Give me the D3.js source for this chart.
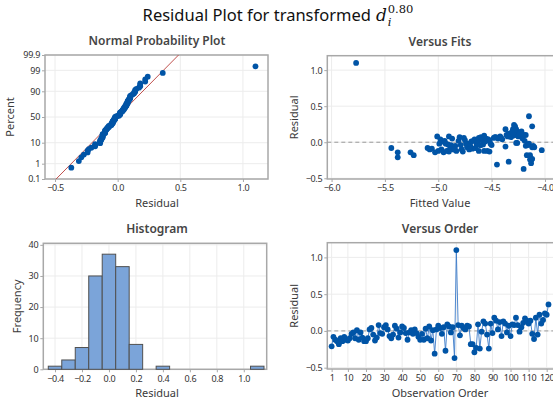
<!DOCTYPE html>
<html>
<head>
<meta charset="utf-8">
<script src="https://cdn.jsdelivr.net/npm/d3@7"></script>
<style>
  html,body{margin:0;padding:0;background:#fff;}
  svg{display:block;}
</style>
</head>
<body>
<svg id="chart" width="553" height="405"></svg>
<script>
// ---------------- DATA ----------------
// residuals in observation order (1..121)
const residuals = [
 -0.21,-0.08,-0.12,-0.14,-0.18,-0.10,-0.14,-0.08,-0.12,-0.13,
 -0.10,-0.04,-0.02,-0.10, 0.01,-0.12,-0.02,-0.09,-0.14,-0.14,
 -0.10, 0.02, 0.04,-0.05,-0.13,-0.09, 0.08,-0.03,-0.04, 0.05,
  0.08, 0.02,-0.07,-0.10,-0.05, 0.07, 0.03,-0.09,-0.02, 0.06,
  0.04,-0.03,-0.12,-0.02, 0.01,-0.04, 0.02,-0.03,-0.08,-0.12,
 -0.04,-0.12, 0.03,-0.10, 0.06,-0.13, 0.01,-0.31, 0.02, 0.07,
  0.04,-0.04, 0.05,-0.27, 0.09, 0.06,-0.02, 0.05,-0.37, 1.10,
  0.08,-0.06, 0.07, 0.04, 0.02, 0.07, 0.06,-0.18,-0.18,-0.29,
 -0.23, 0.09,-0.24,-0.01, 0.13, 0.10,-0.05,-0.24, 0.10,-0.03,
  0.18, 0.14, 0.02, 0.12,-0.07, 0.13, 0.10,-0.02, 0.07,-0.07,
  0.09, 0.08, 0.18, 0.08,-0.01, 0.05, 0.11, 0.17, 0.14, 0.10,
  0.14,-0.04,-0.11, 0.18,-0.05, 0.22, 0.10, 0.15, 0.24, 0.22,
  0.36
];
// fitted values, same order
const fits = [
 -5.38,-5.44,-5.00,-5.38,-5.23,-4.97,-4.95,-5.10,-4.92,-4.90,
 -4.86,-4.88,-4.99,-5.08,-4.96,-4.83,-4.93,-5.06,-5.03,-5.26,
 -4.78,-4.94,-4.98,-4.84,-4.77,-4.89,-5.01,-4.91,-4.79,-4.87,
 -4.90,-4.81,-4.73,-4.85,-4.70,-4.80,-4.75,-4.68,-4.72,-4.76,
 -4.66,-4.64,-4.62,-4.74,-4.69,-4.60,-4.63,-4.58,-4.65,-4.57,
 -4.61,-4.54,-4.59,-4.71,-4.62,-4.52,-4.56,-4.45,-4.67,-4.60,
 -4.53,-4.50,-4.55,-4.34,-4.57,-4.48,-4.51,-4.44,-4.20,-5.77,
 -4.42,-4.37,-4.46,-4.40,-4.52,-4.47,-4.41,-4.17,-4.14,-4.13,
 -4.12,-4.30,-4.125,-4.27,-4.31,-4.28,-4.18,-4.14,-4.36,-4.16,
 -4.30,-4.26,-4.19,-4.34,-4.12,-4.29,-4.24,-4.15,-4.32,-4.10,
 -4.22,-4.35,-4.27,-4.25,-4.26,-4.21,-4.33,-4.29,-4.23,-4.18,
 -4.31,-4.16,-4.03,-4.37,-4.11,-4.28,-4.20,-4.22,-4.29,-4.12,
 -4.15
];
// histogram
const histBinCenters = [-0.4,-0.3,-0.2,-0.1,0.0,0.1,0.2,0.3,0.4,0.5,0.6,0.7,0.8,0.9,1.0,1.1];
const histCounts     = [ 1,   3,   7,  30,  37,  33,  8,  0,  1,  0,  0,  0,  0,  0,  0,  1];
const histBinWidth = 0.1;
// tick labels
const probPercentTicks = [0.1,1,10,50,90,99,99.9];
const probXTicks = [-0.5,0.0,0.5,1.0];
const fitsXTicks = [-6.0,-5.5,-5.0,-4.5,-4.0];
const residTicks = [-0.5,0.0,0.5,1.0];
const histXTicks = [-0.4,-0.2,0.0,0.2,0.4,0.6,0.8,1.0];
const histYTicks = [0,10,20,30,40];
const orderXTicks = [1,10,20,30,40,50,60,70,80,90,100,110,120];

// ---------------- HELPERS ----------------
function qnorm(p){
  const a=[-3.969683028665376e+01,2.209460984245205e+02,-2.759285104469687e+02,1.383577518672690e+02,-3.066479806614716e+01,2.506628277459239e+00];
  const b=[-5.447609879822406e+01,1.615858368580409e+02,-1.556989798598866e+02,6.680131188771972e+01,-1.328068155288572e+01];
  const c=[-7.784894002430293e-03,-3.223964580411365e-01,-2.400758277161838e+00,-2.549671007276075e+00,4.374664141464968e+00,2.938163982698783e+00];
  const d=[7.784695709041462e-03,3.224671290700398e-01,2.445134137142996e+00,3.754408661907416e+00];
  const pl=0.02425, ph=1-pl; let q,r;
  if(p<pl){q=Math.sqrt(-2*Math.log(p));return (((((c[0]*q+c[1])*q+c[2])*q+c[3])*q+c[4])*q+c[5])/((((d[0]*q+d[1])*q+d[2])*q+d[3])*q+1);}
  if(p<=ph){q=p-0.5;r=q*q;return (((((a[0]*r+a[1])*r+a[2])*r+a[3])*r+a[4])*r+a[5])*q/(((((b[0]*r+b[1])*r+b[2])*r+b[3])*r+b[4])*r+1);}
  q=Math.sqrt(-2*Math.log(1-p));return -(((((c[0]*q+c[1])*q+c[2])*q+c[3])*q+c[4])*q+c[5])/((((d[0]*q+d[1])*q+d[2])*q+d[3])*q+1);
}

const FONT = "'Noto Sans','Open Sans',sans-serif";
const TXT = "#333333";
const GRID = "#ececec";
const FRAME = "#a8a8a8";
const DOT = "#0054a6";

const svg = d3.select("#chart");
svg.append("rect").attr("width",553).attr("height",405).attr("fill","#fff");

function panel(box, x, y, xTicks, yTicks, xFmt, yFmt, title, xLabel, yLabel, yLabelX){
  const g = svg.append("g");
  // grid
  g.append("g").selectAll("line").data(xTicks).join("line")
    .attr("x1",d=>x(d)).attr("x2",d=>x(d)).attr("y1",box.top).attr("y2",box.bottom)
    .attr("stroke",GRID).attr("stroke-width",1);
  g.append("g").selectAll("line").data(yTicks).join("line")
    .attr("x1",box.left).attr("x2",box.right).attr("y1",d=>y(d)).attr("y2",d=>y(d))
    .attr("stroke",GRID).attr("stroke-width",1);
  // frame
  g.append("rect").attr("x",box.left).attr("y",box.top)
    .attr("width",box.right-box.left).attr("height",box.bottom-box.top)
    .attr("fill","none").attr("stroke",FRAME).attr("stroke-width",1.5);
  // axes
  const ax = g.append("g").attr("transform",`translate(0,${box.bottom})`)
    .call(d3.axisBottom(x).tickValues(xTicks).tickFormat(xFmt).tickSize(3).tickPadding(3));
  const ay = g.append("g").attr("transform",`translate(${box.left},0)`)
    .call(d3.axisLeft(y).tickValues(yTicks).tickFormat(yFmt).tickSize(3).tickPadding(2));
  [ax,ay].forEach(a=>{
    a.select(".domain").remove();
    a.selectAll("line").attr("stroke",FRAME);
    a.selectAll("text").attr("fill",TXT).style("font-family",FONT).style("font-size","9px")
      .style("letter-spacing","-0.3px");
  });
  // title
  g.append("text").attr("x",box.titleX).attr("y",box.top-10).attr("text-anchor","middle")
    .style("font-family",FONT).style("font-size","12px").style("font-weight","600")
    .attr("fill","#454545").text(title);
  g.append("text").attr("x",box.titleX).attr("y",box.bottom+28).attr("text-anchor","middle")
    .style("font-family",FONT).style("font-size","11px").attr("fill","#3a3a3a").text(xLabel);
  g.append("text").attr("transform",`translate(${yLabelX},${(box.top+box.bottom)/2}) rotate(-90)`)
    .attr("text-anchor","middle")
    .style("font-family",FONT).style("font-size","11px").attr("fill","#3a3a3a").text(yLabel);
  return g;
}

// ---------------- MAIN TITLE ----------------
(function(){
  const tg = svg.append("g");
  const t1 = tg.append("text").attr("x",0).attr("y",21)
    .style("font-family",FONT).style("font-size","16.5px").attr("fill","#111").text("Residual Plot for transformed");
  const w1 = t1.node().getComputedTextLength() + 5;
  const t2 = tg.append("text").attr("x",w1).attr("y",21)
    .style("font-family","'DejaVu Serif','Liberation Serif',serif").style("font-style","italic")
    .style("font-size","17px").attr("fill","#111").text("d");
  const w2 = t2.node().getComputedTextLength();
  const t3 = tg.append("text").attr("x",w1+w2+1).attr("y",26)
    .style("font-family","'DejaVu Serif','Liberation Serif',serif").style("font-style","italic")
    .style("font-size","11.5px").attr("fill","#111").text("i");
  const t4 = tg.append("text").attr("x",w1+w2+1).attr("y",13)
    .style("font-family","'DejaVu Serif','Liberation Serif',serif")
    .style("font-size","11.5px").attr("fill","#111").text("0.80");
  const w4 = t4.node().getComputedTextLength();
  const total = w1+w2+1+w4;
  tg.attr("transform",`translate(${278-total/2},0)`);
})();

// ---------------- PANEL 1: NORMAL PROBABILITY ----------------
{
  const box = {left:45,right:268,top:55,bottom:179,titleX:157};
  const x = d3.scaleLinear().domain([-0.58,1.2]).range([box.left,box.right]);
  const y = d3.scaleLinear().domain([qnorm(0.001),qnorm(0.999)]).range([box.bottom,box.top]);
  const zTicks = probPercentTicks.map(p=>qnorm(p/100));
  const g = panel(box,x,y,probXTicks,zTicks,d3.format(".1f"),
    (d,i)=>String(probPercentTicks[i]),"Normal Probability Plot","Residual","Percent",14);
  const n = residuals.length;
  const sorted = residuals.slice().sort(d3.ascending);
  const pts = sorted.map((r,i)=>({r, z:qnorm((i+1-0.3)/(n+0.4))}));
  const mu = d3.mean(residuals), sd = d3.deviation(residuals);
  const clipId="clip1";
  svg.append("clipPath").attr("id",clipId).append("rect")
    .attr("x",box.left).attr("y",box.top).attr("width",box.right-box.left).attr("height",box.bottom-box.top);
  const zs=[qnorm(0.001),qnorm(0.999)];
  g.append("line").attr("clip-path",`url(#${clipId})`)
    .attr("x1",x(mu+sd*zs[0])).attr("y1",y(zs[0])).attr("x2",x(mu+sd*zs[1])).attr("y2",y(zs[1]))
    .attr("stroke","#c0504d").attr("stroke-width",1);
  g.append("g").selectAll("circle").data(pts).join("circle")
    .attr("cx",d=>x(d.r)).attr("cy",d=>y(d.z)).attr("r",2.9).attr("fill",DOT);
}

// ---------------- PANEL 2: VERSUS FITS ----------------
{
  const box = {left:327.3,right:555,top:55.7,bottom:179,titleX:440};
  const x = d3.scaleLinear().domain([-6.04,-3.906]).range([box.left,box.right]);
  const y = d3.scaleLinear().domain([-0.51,1.2]).range([box.bottom,box.top]);
  const g = panel(box,x,y,fitsXTicks,residTicks,d3.format(".1f"),d3.format(".1f"),
    "Versus Fits","Fitted Value","Residual",298);
  g.append("line").attr("x1",box.left).attr("x2",box.right).attr("y1",y(0)).attr("y2",y(0))
    .attr("stroke","#9a9a9a").attr("stroke-width",1).attr("stroke-dasharray","4,3");
  g.append("g").selectAll("circle").data(residuals.map((r,i)=>({r,f:fits[i]}))).join("circle")
    .attr("cx",d=>x(d.f)).attr("cy",d=>y(d.r)).attr("r",2.9).attr("fill",DOT);
}

// ---------------- PANEL 3: HISTOGRAM ----------------
{
  const box = {left:43.3,right:266.7,top:243.3,bottom:369.3,titleX:157};
  const x = d3.scaleLinear().domain([-0.487,1.17]).range([box.left,box.right]);
  const y = d3.scaleLinear().domain([0,40.5]).range([box.bottom,box.top]);
  const g = panel(box,x,y,histXTicks,histYTicks,d3.format(".1f"),d3.format("d"),
    "Histogram","Residual","Frequency",21);
  const bins = histBinCenters.map((c,i)=>({c,n:histCounts[i]})).filter(d=>d.n>0);
  g.append("g").selectAll("rect").data(bins).join("rect")
    .attr("x",d=>x(d.c-histBinWidth/2)).attr("width",d=>x(d.c+histBinWidth/2)-x(d.c-histBinWidth/2))
    .attr("y",d=>y(d.n)).attr("height",d=>y(0)-y(d.n))
    .attr("fill","#7ba4d9").attr("stroke","#505050").attr("stroke-width",1);
}

// ---------------- PANEL 4: VERSUS ORDER ----------------
{
  const box = {left:327.3,right:555,top:242.7,bottom:369,titleX:440};
  const x = d3.scaleLinear().domain([-1.4,124.6]).range([box.left,box.right]);
  const y = d3.scaleLinear().domain([-0.518,1.2]).range([box.bottom,box.top]);
  const g = panel(box,x,y,orderXTicks,residTicks,d3.format("d"),d3.format(".1f"),
    "Versus Order","Observation Order","Residual",298);
  g.append("line").attr("x1",box.left).attr("x2",box.right).attr("y1",y(0)).attr("y2",y(0))
    .attr("stroke","#9a9a9a").attr("stroke-width",1).attr("stroke-dasharray","4,3");
  const data = residuals.map((r,i)=>({o:i+1,r}));
  g.append("path").datum(data)
    .attr("d",d3.line().x(d=>x(d.o)).y(d=>y(d.r)))
    .attr("fill","none").attr("stroke","#3b7bc8").attr("stroke-width",0.9);
  g.append("g").selectAll("circle").data(data).join("circle")
    .attr("cx",d=>x(d.o)).attr("cy",d=>y(d.r)).attr("r",2.9).attr("fill",DOT);
}
</script>
</body>
</html>
